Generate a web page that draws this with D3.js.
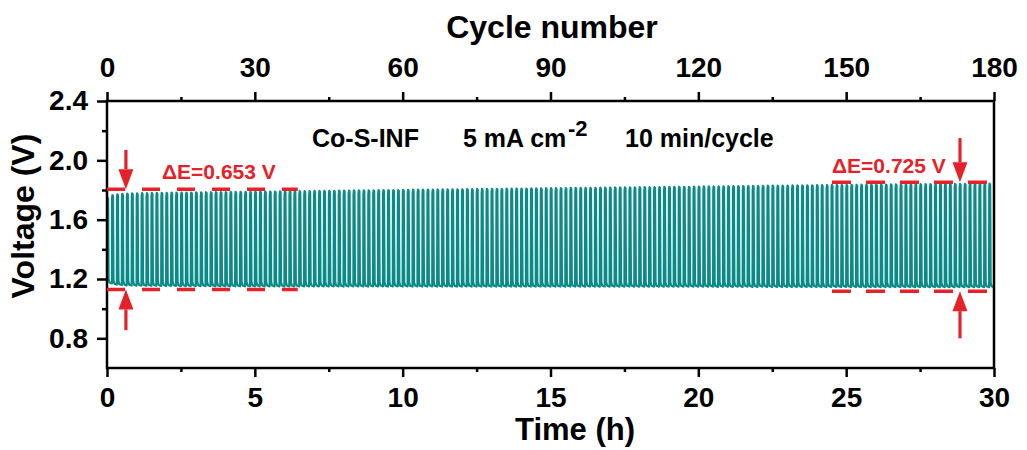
<!DOCTYPE html>
<html><head><meta charset="utf-8">
<script src="https://cdn.jsdelivr.net/npm/d3@7"></script>
<style>
body{margin:0;background:#fff}
text{font-family:"Liberation Sans",Arial,Helvetica,sans-serif;font-weight:bold}
</style>
</head><body>
<svg id="chart" width="1027" height="450"></svg>
<script>
// ---------- data ----------
const timeTicks = [0, 5, 10, 15, 20, 25, 30];
const timeMinor = [2.5, 7.5, 12.5, 17.5, 22.5, 27.5];
const cycleTicks = [0, 30, 60, 90, 120, 150, 180];
const cycleMinor = [15, 45, 75, 105, 135, 165];
const voltTicks = [0.8, 1.2, 1.6, 2.0, 2.4];
const voltMinor = [1.0, 1.4, 1.8, 2.2];
const cycleMinutes = 10;

// end-of-charge voltage per cycle (V)
const chargeV = [
1.748,1.765,1.771,1.774,1.776,1.777,1.778,1.779,1.779,1.780,
1.780,1.781,1.781,1.782,1.782,1.783,1.783,1.783,1.784,1.784,
1.785,1.785,1.786,1.786,1.786,1.787,1.787,1.788,1.788,1.788,
1.789,1.789,1.790,1.790,1.790,1.791,1.791,1.792,1.792,1.792,
1.793,1.793,1.794,1.794,1.794,1.795,1.795,1.796,1.796,1.796,
1.797,1.797,1.798,1.798,1.798,1.799,1.799,1.800,1.800,1.800,
1.801,1.801,1.802,1.802,1.802,1.803,1.803,1.804,1.804,1.804,
1.805,1.805,1.805,1.806,1.806,1.807,1.807,1.807,1.808,1.808,
1.808,1.809,1.809,1.810,1.810,1.810,1.811,1.811,1.811,1.812,
1.812,1.812,1.813,1.813,1.814,1.814,1.814,1.815,1.815,1.815,
1.816,1.816,1.816,1.817,1.817,1.818,1.818,1.818,1.819,1.819,
1.819,1.820,1.820,1.821,1.821,1.821,1.822,1.822,1.822,1.823,
1.823,1.824,1.824,1.824,1.825,1.825,1.826,1.826,1.826,1.827,
1.827,1.828,1.828,1.828,1.829,1.829,1.830,1.830,1.830,1.831,
1.831,1.831,1.832,1.832,1.833,1.833,1.833,1.834,1.834,1.834,
1.835,1.835,1.835,1.836,1.836,1.836,1.837,1.837,1.837,1.838,
1.838,1.838,1.839,1.839,1.839,1.840,1.840,1.840,1.840,1.841,
1.841,1.841,1.841,1.842,1.842,1.842,1.842,1.843,1.843,1.843
];
// end-of-discharge voltage per cycle (V)
const dischargeV = [
1.170,1.162,1.159,1.157,1.156,1.155,1.155,1.154,1.154,1.154,
1.153,1.153,1.153,1.153,1.152,1.152,1.152,1.152,1.152,1.152,
1.152,1.151,1.151,1.151,1.151,1.151,1.151,1.151,1.151,1.151,
1.151,1.151,1.150,1.150,1.150,1.150,1.150,1.150,1.150,1.150,
1.150,1.150,1.150,1.150,1.150,1.150,1.150,1.149,1.150,1.150,
1.150,1.150,1.149,1.150,1.150,1.150,1.149,1.150,1.150,1.149,
1.150,1.149,1.150,1.149,1.149,1.150,1.149,1.149,1.150,1.149,
1.149,1.149,1.150,1.149,1.149,1.149,1.149,1.149,1.149,1.149,
1.149,1.149,1.149,1.149,1.149,1.149,1.149,1.149,1.149,1.149,
1.149,1.149,1.148,1.149,1.149,1.149,1.148,1.149,1.149,1.148,
1.149,1.148,1.149,1.148,1.148,1.149,1.148,1.148,1.148,1.148,
1.148,1.148,1.148,1.148,1.148,1.148,1.148,1.148,1.148,1.148,
1.148,1.148,1.148,1.147,1.148,1.148,1.147,1.148,1.147,1.148,
1.147,1.147,1.148,1.147,1.147,1.147,1.147,1.147,1.147,1.147,
1.147,1.147,1.147,1.147,1.147,1.146,1.147,1.147,1.146,1.147,
1.146,1.147,1.146,1.146,1.146,1.146,1.146,1.146,1.146,1.146,
1.146,1.146,1.146,1.145,1.146,1.146,1.145,1.146,1.145,1.146,
1.145,1.145,1.146,1.145,1.145,1.145,1.145,1.145,1.145,1.145
];

// annotation levels (V) and spans (h)
const deltaLeft  = {label:"ΔE=0.653 V", top:1.805, bottom:1.130, from:0,     to:6.45,  arrowAt:0.64};
const deltaRight = {label:"ΔE=0.725 V", top:1.852, bottom:1.118, from:24.52, to:30,    arrowAt:28.85};

// ---------- layout ----------
const L = 107, R = 994, T = 101, B = 368;
const teal = "#0b8b87", red = "#e5222a";
const svg = d3.select("#chart");

const x = d3.scaleLinear().domain([0, 30]).range([L, R]);
const xc = d3.scaleLinear().domain([0, 180]).range([L, R]);
const y = d3.scaleLinear().domain([0.6, 2.4]).range([B, T]);

// ---------- voltage trace ----------
svg.append("clipPath").attr("id","clip").append("rect")
  .attr("x", L).attr("y", T).attr("width", R-L).attr("height", B-T);

const cycH = cycleMinutes / 60;
// per-cycle shape template: [fraction of cycle, which plateau, offset V]
const shape = [[0.03,"hi",-0.025],[0.10,"hi",0],[0.22,"hi",-0.006],[0.32,"lo",0.03],[0.50,"lo",0.006],[1.0,"lo",0]];
const pts = [[0, dischargeV[0] + 0.04]];
chargeV.forEach((hi, i) => {
  const lo = dischargeV[i], t0 = i * cycH;
  shape.forEach(([f, k, o]) => pts.push([t0 + f*cycH, (k === "hi" ? hi : lo) + o]));
});
svg.append("path").attr("clip-path","url(#clip)")
  .datum(pts)
  .attr("fill","none").attr("stroke", teal).attr("stroke-width", 2.2)
  .attr("stroke-linejoin","round")
  .attr("d", d3.line().x(d => x(d[0])).y(d => y(d[1])));

// ---------- axes ----------
function styleAxis(g, size){
  g.select(".domain").remove();
  g.selectAll(".tick line").attr("stroke","#000").attr("stroke-width",2.5);
  g.selectAll("text").attr("fill","#000").style("font-size", size+"px");
}
svg.append("g").attr("transform",`translate(0,${B})`)
  .call(d3.axisBottom(x).tickValues(timeTicks).tickSize(9).tickPadding(10).tickFormat(d3.format("d")))
  .call(g => styleAxis(g, 28));
svg.append("g").attr("transform",`translate(0,${B})`)
  .call(d3.axisBottom(x).tickValues(timeMinor).tickSize(4).tickFormat(""))
  .call(g => styleAxis(g, 28));
svg.append("g").attr("transform",`translate(0,${T})`)
  .call(d3.axisTop(xc).tickValues(cycleTicks).tickSize(9).tickPadding(15).tickFormat(d3.format("d")))
  .call(g => styleAxis(g, 28));
svg.append("g").attr("transform",`translate(0,${T})`)
  .call(d3.axisTop(xc).tickValues(cycleMinor).tickSize(4).tickFormat(""))
  .call(g => styleAxis(g, 28));
svg.append("g").attr("transform",`translate(${L},0)`)
  .call(d3.axisLeft(y).tickValues(voltTicks).tickSize(10).tickPadding(9).tickFormat(d3.format(".1f")))
  .call(g => styleAxis(g, 28));
svg.append("g").attr("transform",`translate(${L},0)`)
  .call(d3.axisLeft(y).tickValues(voltMinor).tickSize(5).tickFormat(""))
  .call(g => styleAxis(g, 28));

svg.append("rect").attr("x",L).attr("y",T).attr("width",R-L).attr("height",B-T)
  .attr("fill","none").attr("stroke","#000").attr("stroke-width",2.5);

// ---------- titles ----------
svg.append("text").attr("x",552).attr("y",38).attr("text-anchor","middle")
  .style("font-size","32px").text("Cycle number");
svg.append("text").attr("x",575).attr("y",440).attr("text-anchor","middle")
  .style("font-size","31px").text("Time (h)");
svg.append("text").attr("transform","translate(34,216) rotate(-90)").attr("text-anchor","middle")
  .style("font-size","32px").text("Voltage (V)");

// ---------- annotation ----------
const ann = svg.append("g").style("font-size","25px").attr("fill","#000");
ann.append("text").attr("x",312).attr("y",147).text("Co-S-INF");
ann.append("text").attr("x",463).attr("y",147).text("5 mA cm");
ann.append("text").attr("x",568).attr("y",136).style("font-size","22px").text("-2");
ann.append("text").attr("x",625).attr("y",147).text("10 min/cycle");

// ---------- ΔE markers ----------
function arrow(xh, vFrom, vTip){
  const xp = x(xh), y0 = y(vFrom), y1 = y(vTip);
  const dir = Math.sign(y1 - y0), head = 20, hw = 7.5;
  svg.append("line").attr("x1",xp).attr("x2",xp).attr("y1",y0).attr("y2",y1 - dir*head)
    .attr("stroke",red).attr("stroke-width",3.2);
  svg.append("path").attr("fill",red)
    .attr("d",`M${xp-hw},${y1-dir*head}L${xp+hw},${y1-dir*head}L${xp},${y1}Z`);
}
function dashed(d, v, dash){
  svg.append("line").attr("x1",x(d.from)).attr("x2",x(d.to)).attr("y1",y(v)).attr("y2",y(v))
    .attr("stroke",red).attr("stroke-width",3.5).attr("stroke-dasharray",dash);
}
dashed(deltaLeft, deltaLeft.top, "18,17");
dashed(deltaLeft, deltaLeft.bottom, "18,17");
dashed(deltaRight, deltaRight.top, "19,15");
dashed(deltaRight, deltaRight.bottom, "19,15");
arrow(deltaLeft.arrowAt, 2.07, deltaLeft.top);
arrow(deltaLeft.arrowAt, 0.855, deltaLeft.bottom);
arrow(deltaRight.arrowAt, 2.15, deltaRight.top);
arrow(deltaRight.arrowAt, 0.80, deltaRight.bottom);

svg.append("text").attr("x",162).attr("y",179).attr("fill",red).style("font-size","21px").text(deltaLeft.label);
svg.append("text").attr("x",832).attr("y",173).attr("fill",red).style("font-size","21px").text(deltaRight.label);
</script>
</body></html>
